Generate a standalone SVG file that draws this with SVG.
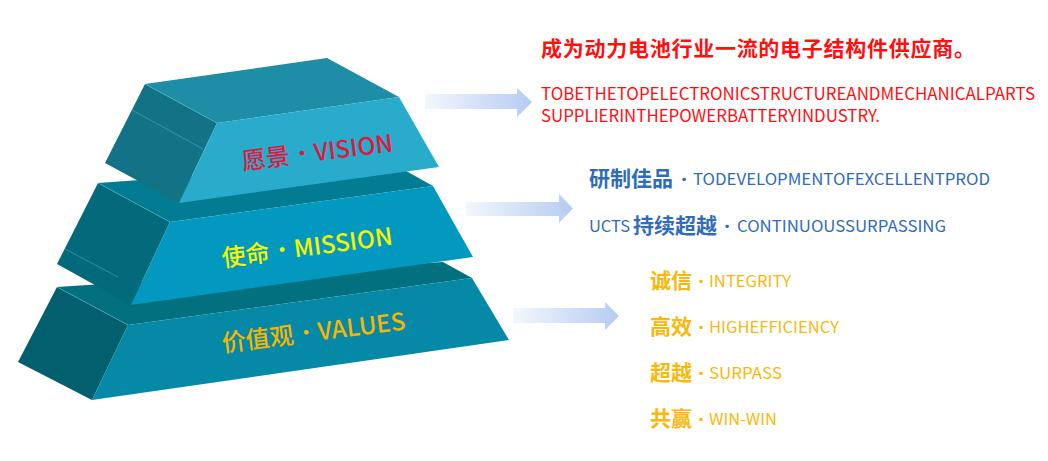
<svg xmlns="http://www.w3.org/2000/svg" width="1048" height="461" viewBox="0 0 1048 461">
<defs>
<linearGradient id="arrowGrad" x1="0" y1="0" x2="1" y2="0">
<stop offset="0" stop-color="#f3f7fd"/>
<stop offset="1" stop-color="#b5ccf1"/>
</linearGradient>
<style>
.arrow{fill:url(#arrowGrad);}
.edge{stroke:#5fbfd3;stroke-width:0.8;stroke-opacity:0.55;fill:none;}
.lbl{font-family:"Noto Sans CJK SC","Noto Sans",sans-serif;font-weight:500;font-size:24px;}
.dotf{font-family:"Noto Sans","DejaVu Sans",sans-serif;font-weight:bold;font-size:27px;}
.cn{font-family:"Noto Sans CJK SC","Noto Sans",sans-serif;font-weight:bold;}
.en{font-family:"Noto Sans CJK SC","Noto Sans",sans-serif;font-weight:400;}
.dot{font-family:"Noto Sans","DejaVu Sans",sans-serif;font-weight:bold;font-size:20px;text-anchor:middle;}
.red{fill:#ff1010;}
.blue{fill:#2f6cb9;}
.yel{fill:#f8b80c;}
</style>
</defs>
<rect width="1048" height="461" fill="#ffffff"/>

<g id="layer-values">
<polygon points="57,287 128,325 92,400 18,362" fill="#025f6d"/>
<polygon points="57,287 443,262 472,278 128,325" fill="#02707f"/>
<polygon points="128,325 472,278 509,340 92,400" fill="#0589a6"/>
<polyline class="edge" points="57,287 128,325"/>
<text class="lbl" x="223" y="352" fill="#f7b500" transform="rotate(-7 223 352)">价值观<tspan class="dotf" dx="9">·</tspan><tspan dx="8">VALUES</tspan></text>
</g>

<g id="layer-mission">
<polygon points="98,183 170,222 131,305 57,264" fill="#026a7b"/>
<polygon points="98,183 390,162 433,186 170,222" fill="#027c92"/>
<polygon points="170,222 433,186 473,257 131,305" fill="#0398bf"/>
<polyline class="edge" points="98,183 170,222"/>
<line class="edge" x1="65" y1="249" x2="118" y2="277"/>
<text class="lbl" x="223" y="267" fill="#f4f400" transform="rotate(-7.5 223 267)">使命<tspan class="dotf" dx="9">·</tspan><tspan dx="8">MISSION</tspan></text>
</g>

<g id="layer-vision">
<polygon points="145,84 217,123 179,203 105,163" fill="#137386"/>
<polygon points="145,84 327,58 399,97 217,123" fill="#1e8ea7"/>
<polygon points="217,123 399,97 439,167 179,203" fill="#29accb"/>
<polyline class="edge" points="145,84 217,123"/>
<line class="edge" x1="132" y1="110" x2="203" y2="149"/>
<text class="lbl" x="243" y="170" fill="#e0173f" transform="rotate(-7 243 170)">愿景<tspan class="dotf" dx="9">·</tspan><tspan dx="8">VISION</tspan></text>
</g>

<g id="connectors">
<path class="arrow" d="M425,94 H517 V88 L532,102 L517,117 V109 H425 Z"/>
<path class="arrow" d="M466,202 H559 V194 L573,208.5 L559,223 V216 H466 Z"/>
<path class="arrow" d="M513,308 H605 V302 L619,316 L605,330 V323 H513 Z"/>
</g>

<g id="vision-text">
<text class="cn red" x="541" y="56" font-size="21" textLength="434" lengthAdjust="spacing">成为动力电池行业一流的电子结构件供应商。</text>
<text class="en red" x="541" y="100" font-size="17" textLength="494" lengthAdjust="spacingAndGlyphs">TOBETHETOPELECTRONICSTRUCTUREANDMECHANICALPARTS</text>
<text class="en red" x="541" y="122" font-size="17" textLength="339" lengthAdjust="spacingAndGlyphs">SUPPLIERINTHEPOWERBATTERYINDUSTRY.</text>
</g>

<g id="mission-text">
<text class="cn blue" x="589" y="186" font-size="21">研制佳品</text>
<text class="dot blue" x="684" y="186">·</text>
<text class="en blue" x="693" y="185" font-size="16" textLength="297" lengthAdjust="spacingAndGlyphs">TODEVELOPMENTOFEXCELLENTPROD</text>
<text class="en blue" x="589" y="232" font-size="16" textLength="41" lengthAdjust="spacingAndGlyphs">UCTS</text>
<text class="cn blue" x="633" y="233" font-size="21">持续超越</text>
<text class="dot blue" x="727" y="233">·</text>
<text class="en blue" x="737" y="232" font-size="16" textLength="209" lengthAdjust="spacingAndGlyphs">CONTINUOUSSURPASSING</text>
</g>

<g id="values-text">
<text class="cn yel" x="650" y="288" font-size="21">诚信</text>
<text class="dot yel" x="701" y="288">·</text>
<text class="en yel" x="709" y="287" font-size="16" textLength="82" lengthAdjust="spacingAndGlyphs">INTEGRITY</text>
<text class="cn yel" x="650" y="334" font-size="21">高效</text>
<text class="dot yel" x="701" y="334">·</text>
<text class="en yel" x="709" y="333" font-size="16" textLength="130" lengthAdjust="spacingAndGlyphs">HIGHEFFICIENCY</text>
<text class="cn yel" x="650" y="380" font-size="21">超越</text>
<text class="dot yel" x="701" y="380">·</text>
<text class="en yel" x="709" y="379" font-size="16" textLength="73" lengthAdjust="spacingAndGlyphs">SURPASS</text>
<text class="cn yel" x="650" y="426" font-size="21">共赢</text>
<text class="dot yel" x="701" y="426">·</text>
<text class="en yel" x="709" y="425" font-size="16" textLength="68" lengthAdjust="spacingAndGlyphs">WIN-WIN</text>
</g>
</svg>
